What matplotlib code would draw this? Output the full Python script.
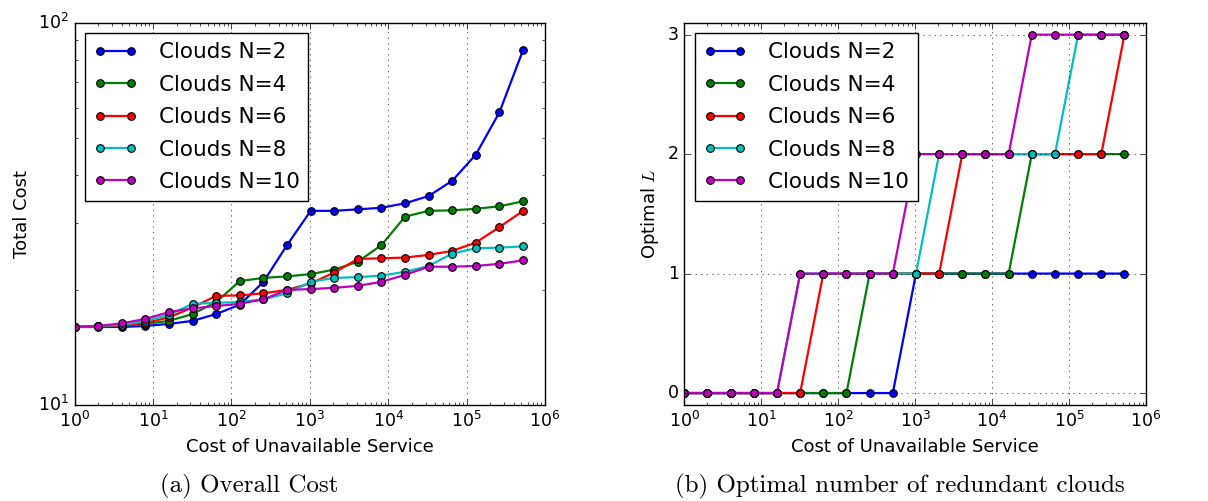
import matplotlib
matplotlib.use("Agg")
import matplotlib.pyplot as plt
import numpy as np

plt.style.use('classic')

# Data
cost_unavail = [2**i for i in range(20)]
series_labels = ["Clouds N=2", "Clouds N=4", "Clouds N=6", "Clouds N=8", "Clouds N=10"]
series_colors = ["b", "g", "r", "c", "m"]

total_n2 = [16.0, 16.0, 16.0, 16.1, 16.3, 16.6, 17.3, 18.3, 21.0, 26.2,
            32.2, 32.2, 32.5, 32.8, 33.7, 35.2, 38.6, 45.2, 58.3, 84.8]
total_n4 = [16.0, 16.05, 16.1, 16.3, 16.6, 17.3, 18.6, 21.1, 21.5, 21.7,
            22.0, 22.6, 23.7, 26.2, 31.1, 32.2, 32.3, 32.6, 33.1, 34.1]
total_n6 = [16.0, 16.05, 16.15, 16.4, 16.95, 18.0, 19.3, 19.35, 19.6, 20.0,
            20.8, 22.2, 24.1, 24.2, 24.3, 24.7, 25.3, 26.6, 29.2, 32.2]
total_n8 = [16.0, 16.1, 16.2, 16.6, 17.2, 18.4, 18.5, 18.6, 18.9, 19.6,
            21.0, 21.5, 21.6, 21.8, 22.3, 23.1, 24.9, 25.7, 25.8, 26.0]
total_n10 = [16.0, 16.1, 16.35, 16.8, 17.5, 17.9, 18.15, 18.4, 18.9, 20.0,
             20.1, 20.25, 20.5, 21.0, 21.9, 23.0, 23.0, 23.1, 23.4, 23.9]

L_n2 = [0, 0, 0, 0, 0, 0, 0, 0, 0, 0, 1, 1, 1, 1, 1, 1, 1, 1, 1, 1]
L_n4 = [0, 0, 0, 0, 0, 0, 0, 0, 1, 1, 1, 1, 1, 1, 1, 2, 2, 2, 2, 2]
L_n6 = [0, 0, 0, 0, 0, 0, 1, 1, 1, 1, 1, 1, 2, 2, 2, 2, 2, 2, 2, 3]
L_n8 = [0, 0, 0, 0, 0, 1, 1, 1, 1, 1, 1, 2, 2, 2, 2, 2, 2, 3, 3, 3]
L_n10 = [0, 0, 0, 0, 0, 1, 1, 1, 1, 1, 2, 2, 2, 2, 2, 3, 3, 3, 3, 3]

totals = [total_n2, total_n4, total_n6, total_n8, total_n10]
Ls = [L_n2, L_n4, L_n6, L_n8, L_n10]

fig = plt.figure(figsize=(12.08, 5.01), dpi=100, facecolor='white')
ax1 = fig.add_axes([0.0618, 0.1916, 0.3894, 0.7631])
ax2 = fig.add_axes([0.5665, 0.1916, 0.3822, 0.7631])

lw = 1.6
ms = 5.5
for vals, lab, col in zip(totals, series_labels, series_colors):
    ax1.plot(cost_unavail, vals, '-o', color=col, label=lab, lw=lw, ms=ms,
             mec='k', mew=0.8)
for vals, lab, col in zip(Ls, series_labels, series_colors):
    ax2.plot(cost_unavail, vals, '-o', color=col, label=lab, lw=lw, ms=ms,
             mec='k', mew=0.8)

tick_fs = 12.5
for ax in (ax1, ax2):
    ax.set_xscale('log')
    ax.set_xlim(1, 1e6)
    ax.grid(True, which='major', color='k', linestyle=':', linewidth=0.6, alpha=0.7)
    ax.tick_params(labelsize=tick_fs)
    ax.set_xlabel('Cost of Unavailable Service', fontsize=13)
    ax.legend(loc='upper left', fontsize=15.5, numpoints=2, handlelength=2.0,
              handletextpad=1.0, labelspacing=0.58, fancybox=False)

ax1.set_yscale('log')
ax1.set_ylim(10, 100)
ax1.set_ylabel('Total Cost', fontsize=13)

ax2.set_ylim(-0.1, 3.1)
ax2.set_yticks([0, 1, 2, 3])
ax2.set_ylabel('Optimal $L$', fontsize=13)

fig.text(0.2065, 0.018, '(a) Overall Cost', ha='center', va='baseline',
         fontsize=18, family='cmr10')
fig.text(0.745, 0.018, '(b) Optimal number of redundant clouds', ha='center',
         va='baseline', fontsize=18, family='cmr10')

fig.savefig('out.png', dpi=100, facecolor='white')
